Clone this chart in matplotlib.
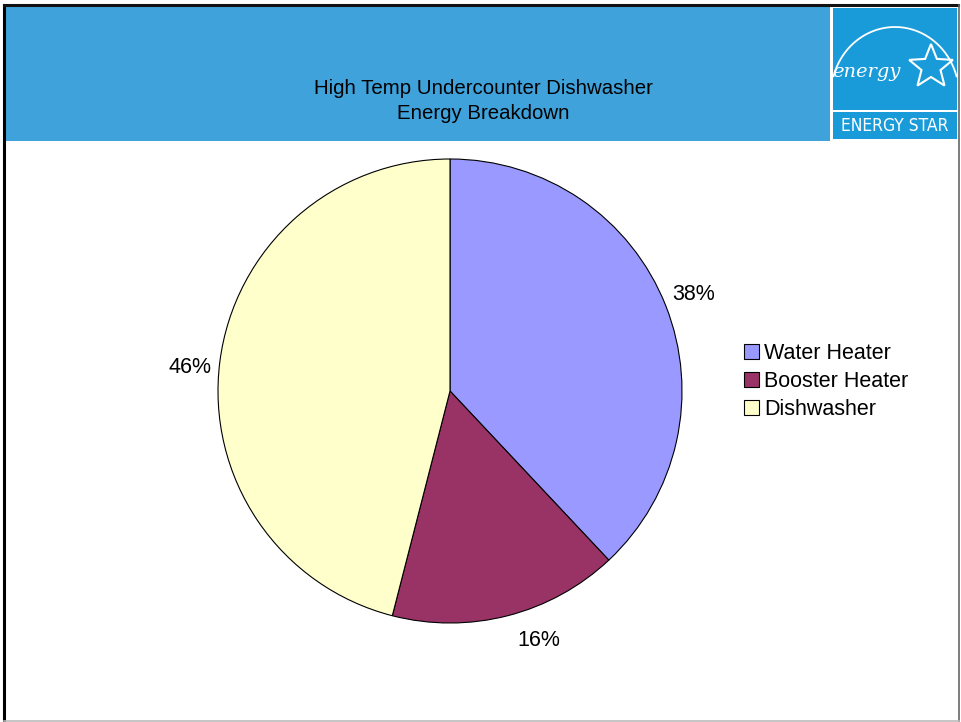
import matplotlib.pyplot as plt
import matplotlib.patches as mpatches
import numpy as np

# energy share by component (%)
labels = ["Water Heater", "Booster Heater", "Dishwasher"]
shares = [38, 16, 46]
colors = ["#9999FF", "#993366", "#FFFFCC"]
title_lines = ["High Temp Undercounter Dishwasher", "Energy Breakdown"]

W, H = 961, 722
fig = plt.figure(figsize=(W / 100, H / 100), dpi=100)
fig.patch.set_facecolor("white")

# full-figure canvas in pixel units for the slide frame and banner
bg = fig.add_axes([0, 0, 1, 1])
bg.set_xlim(0, W)
bg.set_ylim(H, 0)
bg.axis("off")

bg.add_patch(mpatches.Rectangle((5, 6), 825, 135, facecolor="#3FA2DB", edgecolor="none"))
bg.plot([4, 4], [5, H], color="black", lw=2.2)
bg.plot([4, 958], [5, 5], color="#111111", lw=2.2)
bg.plot([959, 959], [5, H], color="#666666", lw=1.2)
bg.plot([4, 959], [721, 721], color="#BBBBBB", lw=1.2)

# ENERGY STAR logo
logo_blue = "#1A9BD9"
bg.add_patch(mpatches.Rectangle((831, 6), 127, 135, facecolor="white", edgecolor="none"))
bg.add_patch(mpatches.Rectangle((833, 8), 124, 102, facecolor=logo_blue, edgecolor="none"))
bg.add_patch(mpatches.Rectangle((833, 112), 124, 27, facecolor=logo_blue, edgecolor="none"))
t = np.linspace(np.radians(196), np.radians(344), 60)
bg.plot(895 + 64 * np.cos(t), 95 + 68 * np.sin(t), color="white", lw=1.3)
bg.text(866, 72, "energy", color="white", fontsize=14, style="italic",
        family="DejaVu Serif", ha="center", va="center")
ang = np.radians(-90 + np.arange(10) * 36)
rad = np.where(np.arange(10) % 2 == 0, 23, 10)
bg.add_patch(mpatches.Polygon(np.c_[931 + rad * np.cos(ang), 67 + rad * np.sin(ang)],
                              closed=True, fill=False, edgecolor="white", lw=1.5))
bg.text(895, 126, "ENERGY STAR", color="white", fontsize=12.5, family="DejaVu Sans",
        stretch="condensed", ha="center", va="center")

bg.text(483, 101, "\n".join(title_lines), fontsize=14.7, family="Liberation Sans",
        ha="center", va="center", linespacing=1.38)

# pie: center (450, 391), radius 232 px
cx, cy, r = 450, 391, 232
ax = fig.add_axes([(cx - r) / W, (H - cy - r) / H, 2 * r / W, 2 * r / H])
wedges, texts = ax.pie(shares, colors=colors, startangle=90, counterclock=False,
                       labels=[f"{s}%" for s in shares], labeldistance=1.13,
                       wedgeprops=dict(edgecolor="black", linewidth=0.8))
# nudge the lower/left percent labels (in axes data units)
nudges = [(0.0, 0.0), (0.1, 0.02), (0.0, -0.04)]
for tx, (dx, dy) in zip(texts, nudges):
    x, y = tx.get_position()
    tx.set_position((x + dx, y + dy))
    tx.set_fontsize(15.5)
    tx.set_family("Liberation Sans")
    tx.set_ha("center")
    tx.set_va("center")
ax.set_xlim(-1, 1)
ax.set_ylim(-1, 1)

fig.legend(wedges, labels, loc="upper left", bbox_to_anchor=(735 / W, 1 - 334 / H),
           frameon=False, prop={"family": "Liberation Sans", "size": 15.5},
           handlelength=0.7, handleheight=0.7, handletextpad=0.25, labelspacing=0.33,
           borderaxespad=0)

fig.savefig("out.png", dpi=100)
